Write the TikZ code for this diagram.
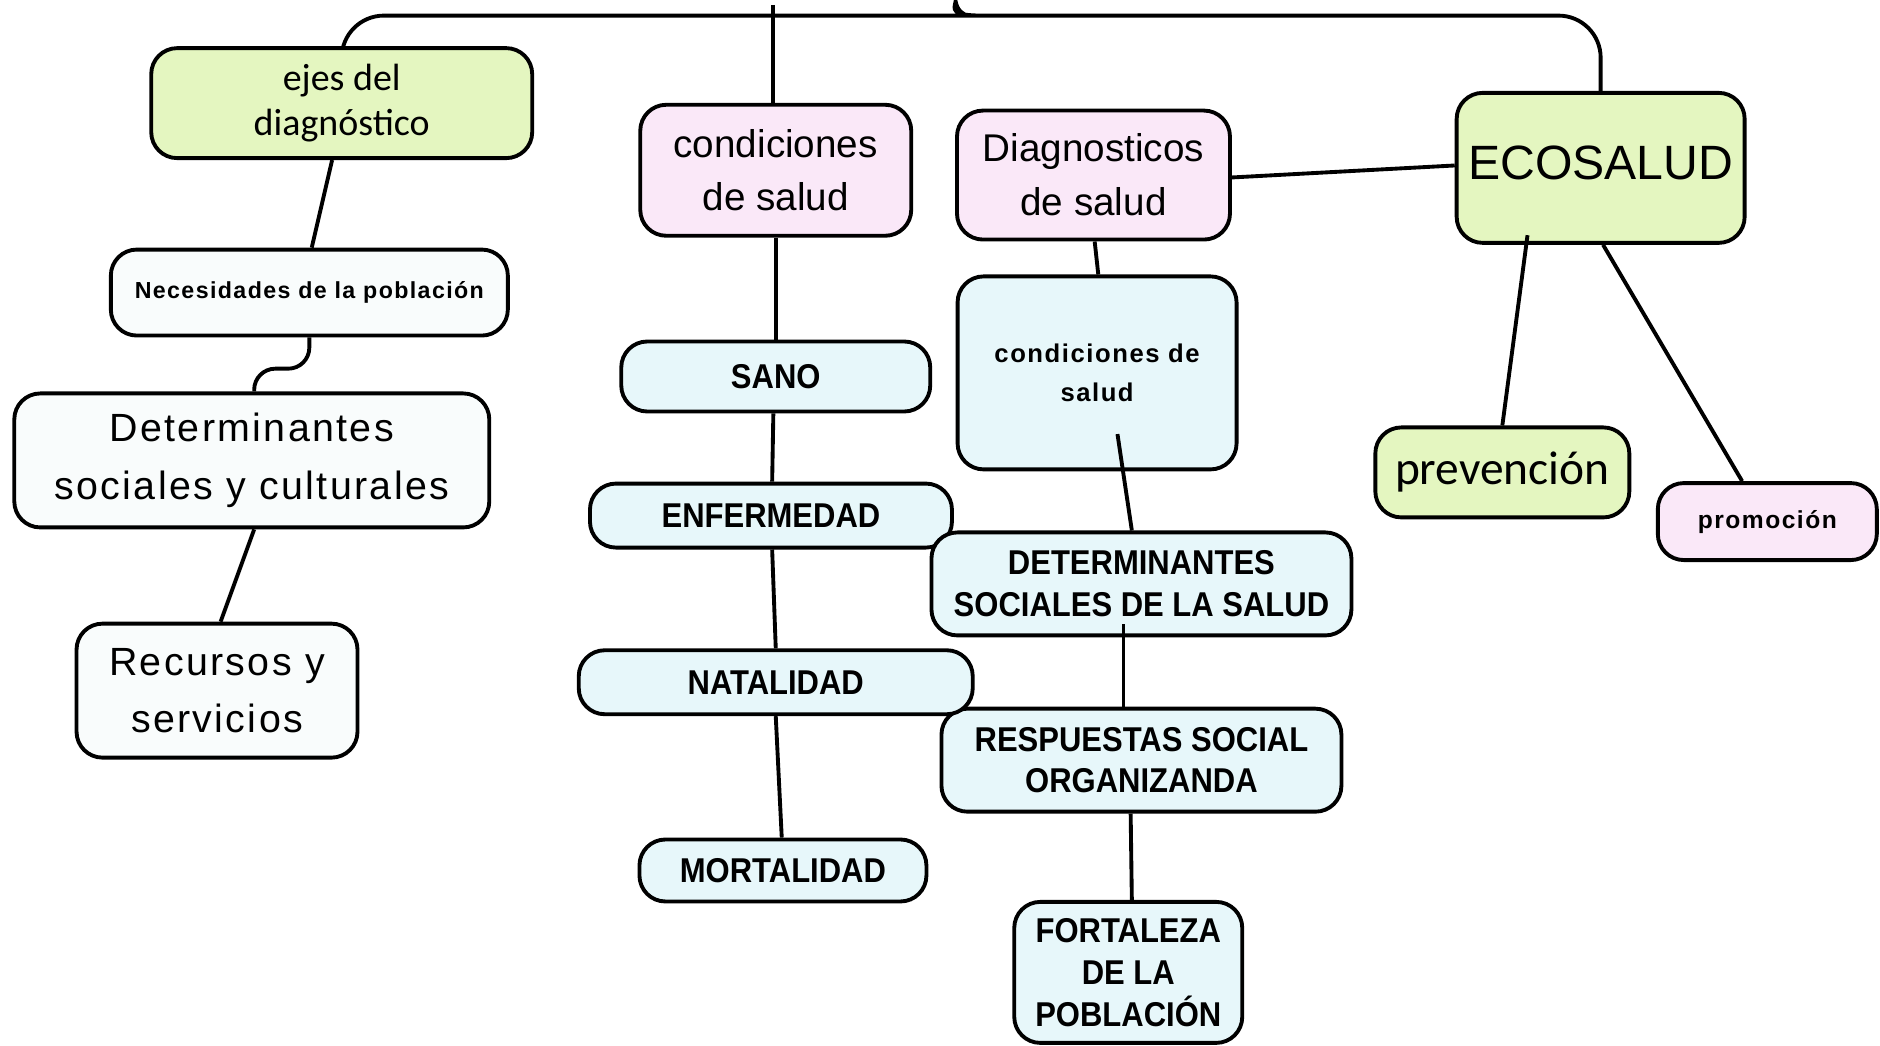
\documentclass[tikz,border=0pt]{standalone}
\usepackage{fontspec}
\usetikzlibrary{backgrounds}
\setmainfont{Liberation Sans}
\newfontfamily\calib{Carlito}
\newfontfamily\spaced[LetterSpace=6]{Liberation Sans}
\newfontfamily\narrowf[FakeStretch=0.9]{Liberation Sans}
\definecolor{limeG}{RGB}{228,246,192}
\definecolor{pinkP}{RGB}{250,232,248}
\definecolor{cyanC}{RGB}{231,247,250}
\definecolor{whiteW}{RGB}{249,252,252}
\begin{document}
\begin{tikzpicture}[x=0.1199mm,y=-0.1199mm,box/.style={shape=rectangle,rounded corners=2.6mm,draw=black,line width=1.1pt,align=center,inner sep=0pt},boxG/.style={box,fill=limeG},boxP/.style={box,fill=pinkP},boxC/.style={box,fill=cyanC},boxW/.style={box,fill=whiteW},link/.style={line width=1.1pt},caps/.style={font=\narrowf\bfseries\fontsize{9.8}{11.9}\selectfont}]
\useasboundingbox (0,0) rectangle (1568,872);

% left column
\node[boxG,minimum width=38.1mm,minimum height=11mm,font=\calib\fontsize{10.8}{12.6}\selectfont] (ejes) at (285,86) {ejes del\\diagnóstico};
\node[boxW,minimum width=39.7mm,minimum height=8.6mm,font=\spaced\bfseries\fontsize{6.6}{8}\selectfont] (nec) at (258,244) {Necesidades de la población};
\node[boxW,minimum width=47.5mm,minimum height=13.4mm,font=\spaced\fontsize{11.2}{16.3}\selectfont] (detsc) at (210,384) {Determinantes\\sociales y culturales};
\node[boxW,minimum width=28.1mm,minimum height=13.4mm,font=\spaced\fontsize{11.2}{16.3}\selectfont] (rec) at (181,576) {Recursos y\\servicios};

% second column
\node[boxP,minimum width=27.1mm,minimum height=13.1mm,font=\fontsize{11}{15.3}\selectfont] (cond) at (647,142) {condiciones\\de salud};
\node[boxC,caps,minimum width=30.9mm,minimum height=7mm] (sano) at (647,314) {SANO};
\node[boxC,caps,minimum width=36.2mm,minimum height=6.4mm] (enf) at (643,430) {ENFERMEDAD};
\node[boxC,caps,minimum width=28.7mm,minimum height=6.2mm] (mort) at (653,726) {MORTALIDAD};

% third column
\node[boxP,minimum width=27.3mm,minimum height=12.9mm,font=\fontsize{11}{15.3}\selectfont] (diag) at (912,146) {Diagnosticos\\de salud};
\node[boxC,minimum width=27.9mm,minimum height=19.3mm,font=\spaced\bfseries\fontsize{7.3}{11.2}\selectfont] (cond2) at (915,311) {condiciones de\\salud};
\node[boxC,caps,minimum width=42mm,minimum height=10.3mm] (dss) at (952,487) {DETERMINANTES\\SOCIALES DE LA SALUD};
\node[boxC,caps,minimum width=40mm,minimum height=10.3mm] (resp) at (952,634) {RESPUESTAS SOCIAL\\ORGANIZANDA};
\node[boxC,caps,minimum width=39.4mm,minimum height=6.4mm] (nat) at (647,569) {NATALIDAD};
\node[boxC,caps,minimum width=22.8mm,minimum height=14.1mm] (fort) at (941,811) {FORTALEZA\\DE LA\\POBLACIÓN};

% right column
\node[boxG,minimum width=28.8mm,minimum height=15mm,font=\fontsize{13.7}{16}\selectfont] (eco) at (1335,140) {ECOSALUD\rule[-3pt]{0pt}{1pt}};
\node[boxG,minimum width=25.4mm,minimum height=9mm,font=\calib\fontsize{13.5}{16}\selectfont] (prev) at (1253,394) {prevención};
\node[boxP,minimum width=21.9mm,minimum height=7.7mm,font=\spaced\bfseries\fontsize{7}{9}\selectfont] (prom) at (1474,435) {promoción};

% brace on top
\coordinate (cusp) at (797,1);
\coordinate (stem) at (645,4);
\begin{scope}[on background layer]
\draw[link,rounded corners=12] (ejes.north) |- (785,13) [sharp corners] to[out=0,in=-100] (cusp) to[out=-80,in=180] (809,13) [rounded corners=12] -| (eco.north);
\draw[link] (stem) -- (stem |- cond.north);
\end{scope}

% links
\draw[link] ([shift={(-8,0)}]ejes.south) -- ([shift={(2,0)}]nec.north);
\draw[link,rounded corners=6] (nec.south) -- ++(0,26) -| ([shift={(2,0)}]detsc.north);
\draw[link] ([shift={(2,0)}]detsc.south) -- ([shift={(3,0)}]rec.north);
\draw[link] (cond.south) -- (sano.north);
\draw[link] ([shift={(-2,0)}]sano.south) -- ([shift={(1,0)}]enf.north);
\draw[link] ([shift={(1,0)}]enf.south) -- (nat.north);
\draw[link] (nat.south) -- ([shift={(-1,0)}]mort.north);
\draw[link] ([shift={(1,0)}]diag.south) -- ([shift={(1,0)}]cond2.north);
\draw[link] ([shift={(0,2)}]diag.east) -- ([shift={(0,-2)}]eco.west);
\draw[link] ([shift={(17,51)}]cond2.center) -- ([shift={(-8,0)}]dss.north);
\draw[link] ([shift={(-15,-11)}]dss.south) -- ([shift={(-15,0)}]resp.north);
\draw[link] ([shift={(-9,0)}]resp.south) -- ([shift={(3,0)}]fort.north);
\draw[link] ([shift={(-61,-8)}]eco.south) -- (prev.north);
\draw[link] ([shift={(2,0)}]eco.south) -- ([shift={(-21,0)}]prom.north);
\end{tikzpicture}
\end{document}
